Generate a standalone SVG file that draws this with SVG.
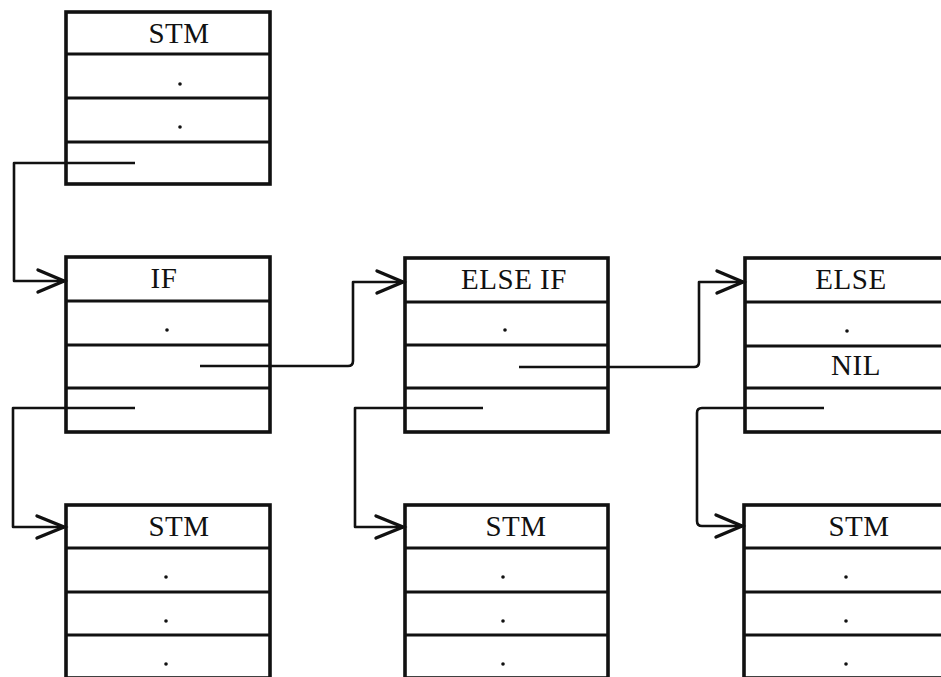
<svg xmlns="http://www.w3.org/2000/svg" width="941" height="677" viewBox="0 0 941 677">
  <defs>
    <style>
      .frame { fill: #fff; stroke: #111; stroke-width: 3.6; }
      .div { stroke: #111; stroke-width: 3.2; }
      .lbl { font-family: "Liberation Serif", "Times New Roman", serif; font-size: 29px; fill: #111; text-anchor: middle; letter-spacing: 0.5px; }
      .dot { fill: #111; }
      .wire { fill: none; stroke: #111; stroke-width: 2.6; stroke-linejoin: round; }
      .head { fill: none; stroke: #111; stroke-width: 3.4; stroke-linecap: round; stroke-linejoin: miter; }
    </style>
  </defs>
  <rect width="941" height="677" fill="#fff"/>

  <!-- STM record at the top -->
  <g id="stm-top">
    <rect class="frame" x="66" y="12" width="204" height="172"/>
    <line class="div" x1="66" y1="54" x2="270" y2="54"/>
    <line class="div" x1="66" y1="98" x2="270" y2="98"/>
    <line class="div" x1="66" y1="142" x2="270" y2="142"/>
    <text class="lbl" x="179" y="43">STM</text>
    <circle class="dot" cx="180" cy="84" r="1.8"/>
    <circle class="dot" cx="180" cy="127" r="1.8"/>
  </g>

  <!-- IF record -->
  <g id="if-node">
    <rect class="frame" x="66" y="257" width="204" height="175"/>
    <line class="div" x1="66" y1="301" x2="270" y2="301"/>
    <line class="div" x1="66" y1="345" x2="270" y2="345"/>
    <line class="div" x1="66" y1="388" x2="270" y2="388"/>
    <text class="lbl" x="164" y="288">IF</text>
    <circle class="dot" cx="167" cy="330" r="1.8"/>
  </g>

  <!-- ELSE IF record -->
  <g id="elseif-node">
    <rect class="frame" x="405" y="258" width="203" height="174"/>
    <line class="div" x1="405" y1="302" x2="608" y2="302"/>
    <line class="div" x1="405" y1="345" x2="608" y2="345"/>
    <line class="div" x1="405" y1="388" x2="608" y2="388"/>
    <text class="lbl" x="514" y="289">ELSE IF</text>
    <circle class="dot" cx="505" cy="330" r="1.8"/>
  </g>

  <!-- ELSE record (right edge runs past the page) -->
  <g id="else-node">
    <rect class="frame" x="745" y="258" width="210" height="174"/>
    <line class="div" x1="745" y1="302" x2="945" y2="302"/>
    <line class="div" x1="745" y1="346" x2="945" y2="346"/>
    <line class="div" x1="745" y1="388" x2="945" y2="388"/>
    <text class="lbl" x="851" y="289">ELSE</text>
    <circle class="dot" cx="847" cy="331" r="1.8"/>
    <text class="lbl" x="856" y="375">NIL</text>
  </g>

  <!-- STM records in the bottom row (cut off at the page bottom) -->
  <g id="stm-1">
    <rect class="frame" x="66" y="505" width="204" height="173"/>
    <line class="div" x1="66" y1="548" x2="270" y2="548"/>
    <line class="div" x1="66" y1="592" x2="270" y2="592"/>
    <line class="div" x1="66" y1="635" x2="270" y2="635"/>
    <text class="lbl" x="179" y="536">STM</text>
    <circle class="dot" cx="166" cy="577" r="1.8"/>
    <circle class="dot" cx="166" cy="621" r="1.8"/>
    <circle class="dot" cx="166" cy="664" r="1.8"/>
  </g>

  <g id="stm-2">
    <rect class="frame" x="405" y="505" width="203" height="173"/>
    <line class="div" x1="405" y1="548" x2="608" y2="548"/>
    <line class="div" x1="405" y1="592" x2="608" y2="592"/>
    <line class="div" x1="405" y1="635" x2="608" y2="635"/>
    <text class="lbl" x="516" y="536">STM</text>
    <circle class="dot" cx="503" cy="577" r="1.8"/>
    <circle class="dot" cx="503" cy="621" r="1.8"/>
    <circle class="dot" cx="503" cy="664" r="1.8"/>
  </g>

  <g id="stm-3">
    <rect class="frame" x="744" y="505" width="210" height="173"/>
    <line class="div" x1="744" y1="548" x2="945" y2="548"/>
    <line class="div" x1="744" y1="592" x2="945" y2="592"/>
    <line class="div" x1="744" y1="635" x2="945" y2="635"/>
    <text class="lbl" x="859" y="536">STM</text>
    <circle class="dot" cx="846" cy="577" r="1.8"/>
    <circle class="dot" cx="846" cy="621" r="1.8"/>
    <circle class="dot" cx="846" cy="664" r="1.8"/>
  </g>

  <!-- pointer connectors -->
  <g id="connectors">
    <!-- STM -> IF -->
    <path class="wire" d="M135,163 H14 V281 H63"/>
    <path class="head" d="M38,270 L64,281 L38,292"/>
    <!-- IF -> STM (body) -->
    <path class="wire" d="M135,408 H13 V527 H63"/>
    <path class="head" d="M37,516 L64,527 L37,538"/>
    <!-- IF -> ELSE IF -->
    <path class="wire" d="M200,366 H348 Q353,366 353,361 V282 H402"/>
    <path class="head" d="M377,271 L403,282 L377,293"/>
    <!-- ELSE IF -> STM (body) -->
    <path class="wire" d="M483,408 H355 V527 H402"/>
    <path class="head" d="M376,516 L403,527 L376,538"/>
    <!-- ELSE IF -> ELSE -->
    <path class="wire" d="M519,367 H694 Q699,367 699,362 V282 H742"/>
    <path class="head" d="M717,271 L743,282 L717,293"/>
    <!-- ELSE -> STM (body) -->
    <path class="wire" d="M824,408 H702 Q697,408 697,413 V521 Q697,526 702,526 H741"/>
    <path class="head" d="M716,515 L742,526 L716,537"/>
  </g>
</svg>
